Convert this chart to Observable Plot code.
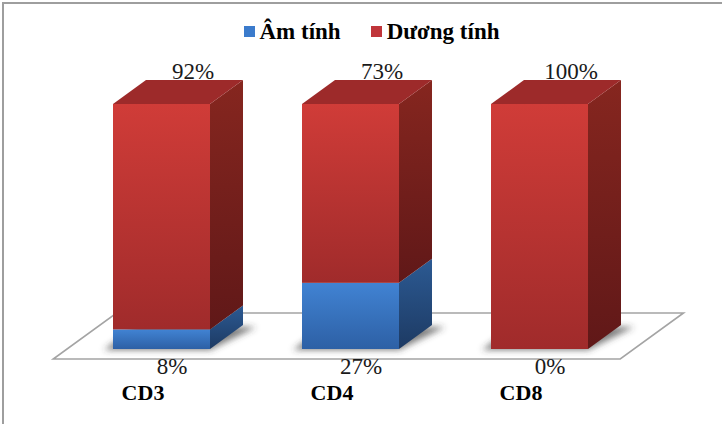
<!DOCTYPE html>
<html>
<head>
<meta charset="utf-8">
<script src="https://cdn.jsdelivr.net/npm/d3@7"></script>
<script src="https://cdn.jsdelivr.net/npm/@observablehq/plot@0.6"></script>
<style>
  html, body { margin: 0; padding: 0; background: #fff; }
  #frame {
    position: absolute; left: 2px; top: 2px; width: 720px; height: 422px;
    box-sizing: border-box; border-top: 2px solid #9e9e9e; border-left: 2px solid #9e9e9e;
    background: #fff; overflow: hidden;
  }
  #legend {
    height: 40px; box-sizing: border-box; padding-top: 15px; padding-left: 17px;
    display: flex; justify-content: center; align-items: center;
    font-family: "Liberation Serif", "Times New Roman", "DejaVu Serif", serif;
    font-weight: bold; font-size: 23px; line-height: 22px; color: #000;
  }
  #legend .item { display: flex; align-items: center; }
  #legend .item + .item { margin-left: 30px; }
  #legend .sw { width: 11px; height: 11px; margin-right: 5px; }
  #chart svg { display: block; }
  #chart svg text { font-family: "Liberation Serif", "Times New Roman", "DejaVu Serif", serif; }
</style>
</head>
<body>
<div id="frame">
  <div id="legend"></div>
  <div id="chart"></div>
</div>
<script>
// Tỷ lệ âm tính / dương tính theo dấu ấn CD
const categories = ["CD3", "CD4", "CD8"];
const seriesNames = ["Âm tính", "Dương tính"];
const amTinh = [8, 27, 0];
const duongTinh = [92, 73, 100];
const seriesValues = [amTinh, duongTinh];
const seriesColors = ["#3b7bcc", "#c0353a"];

// Stacked rows: one per category and series, bottom to top
const rows = categories.flatMap((cat, i) => {
  let base = 0;
  return seriesNames.map((series, k) => {
    const value = seriesValues[k][i];
    const r = { i, cat, series, k, value, y1: base, y2: base + value };
    base += value;
    return r;
  });
});
const visible = rows.filter(d => d.value > 0);
const topRows = rows.filter(d => d.k === seriesNames.length - 1);
const bottomRows = rows.filter(d => d.k === 0);

// 3D look: depth offset of each bar in pixels, half bar width in index units
const DX = 33, DY = -24;
const HALF = 0.2566;
const NS = "http://www.w3.org/2000/svg";
const SERIF = "Liberation Serif, Times New Roman, DejaVu Serif, serif";

// Draws polygons whose corners come from the plot's x / y scales
function polygons(items, cornersOf, styleOf) {
  return (index, scales) => {
    const g = document.createElementNS(NS, "g");
    for (const d of items) {
      const pts = cornersOf(d, scales.x, scales.y);
      const p = document.createElementNS(NS, "path");
      p.setAttribute("d", "M" + pts.map(q => q[0].toFixed(2) + "," + q[1].toFixed(2)).join("L") + "Z");
      for (const [k, v] of Object.entries(styleOf(d))) p.setAttribute(k, v);
      g.appendChild(p);
    }
    return g;
  };
}

// Floor plane under the bars
const floor = polygons([null], (d, x, y) => {
  const xl = x(-0.5), xr = x(categories.length - 0.5), y0 = y(0);
  const f = -0.417, b = 1.5;
  return [
    [xl + DX * f, y0 + DY * f], [xr + DX * f, y0 + DY * f],
    [xr + DX * b, y0 + DY * b], [xl + DX * b, y0 + DY * b]
  ];
}, () => ({ fill: "#fff", stroke: "#a4a4a4", "stroke-width": 1.6 }));

// Soft shadow around the base of each bar
const shadows = polygons(categories.map((c, i) => i), (i, x, y) => {
  const xl = x(i - HALF), xr = x(i + HALF), y0 = y(0);
  return [[xl - 9, y0 + 1], [xr, y0 + 1], [xr + DX + 13, y0 + DY + 2], [xl + DX - 9, y0 + DY]];
}, () => ({ fill: "#3a3a3a", "fill-opacity": 0.65, filter: "url(#blur)" }));

// Right-hand side faces
const sides = polygons(visible, (d, x, y) => {
  const xr = x(d.i + HALF);
  return [[xr, y(d.y1)], [xr, y(d.y2)], [xr + DX, y(d.y2) + DY], [xr + DX, y(d.y1) + DY]];
}, d => ({ fill: d.k === 0 ? "url(#sideBlue)" : "url(#sideRed)" }));

// Top faces of the stacks
const tops = polygons(topRows, (d, x, y) => {
  const xl = x(d.i - HALF), xr = x(d.i + HALF), yt = y(d.y2);
  return [[xl, yt], [xr, yt], [xr + DX, yt + DY], [xl + DX, yt + DY]];
}, () => ({ fill: "#9d2a2a" }));

const pct = v => `${v}%`;

const chart = Plot.plot({
  width: 718,
  height: 380,
  marginTop: 60,
  marginBottom: 75,
  marginLeft: 63,
  marginRight: 88,
  style: { fontFamily: SERIF, color: "#111", background: "transparent" },
  x: { type: "linear", domain: [-0.5, categories.length - 0.5] },
  y: { domain: [0, 100], axis: null },
  marks: [
    floor,
    shadows,
    Plot.rect(visible.filter(d => d.k === 0), {
      x1: d => d.i - HALF, x2: d => d.i + HALF, y1: "y1", y2: "y2", fill: "url(#frontBlue)"
    }),
    Plot.rect(visible.filter(d => d.k === 1), {
      x1: d => d.i - HALF, x2: d => d.i + HALF, y1: "y1", y2: "y2", fill: "url(#frontRed)"
    }),
    sides,
    tops,
    Plot.text(topRows, {
      x: "i", y: "y2", text: d => pct(d.value), dx: 31, dy: -26,
      lineAnchor: "bottom", fontSize: 23, fontFamily: SERIF, fill: "#1a1a1a"
    }),
    Plot.text(bottomRows, {
      x: "i", y: "y1", text: d => pct(d.value), dx: 10, dy: 24,
      lineAnchor: "bottom", fontSize: 23, fontFamily: SERIF, fill: "#1a1a1a"
    }),
    Plot.axisX({
      ticks: d3.range(categories.length), tickFormat: i => categories[i],
      tickSize: 0, tickPadding: 35, dx: -19,
      fontSize: 22, fontWeight: "bold", fontFamily: SERIF, fill: "#000", label: null
    })
  ]
});

// Gradients and blur used by the bar faces
const defs = document.createElementNS(NS, "defs");
defs.innerHTML = `
  <linearGradient id="frontRed" x1="0" y1="0" x2="0" y2="1">
    <stop offset="0" stop-color="#d03c38"/><stop offset="1" stop-color="#a02b2b"/>
  </linearGradient>
  <linearGradient id="frontBlue" x1="0" y1="0" x2="0" y2="1">
    <stop offset="0" stop-color="#4183d3"/><stop offset="1" stop-color="#2d60a5"/>
  </linearGradient>
  <linearGradient id="sideRed" x1="0" y1="0" x2="0" y2="1">
    <stop offset="0" stop-color="#86261f"/><stop offset="1" stop-color="#601818"/>
  </linearGradient>
  <linearGradient id="sideBlue" x1="0" y1="0" x2="0" y2="1">
    <stop offset="0" stop-color="#2c5a93"/><stop offset="1" stop-color="#1d3a63"/>
  </linearGradient>
  <filter id="blur" x="-20%" y="-50%" width="140%" height="200%">
    <feGaussianBlur stdDeviation="3"/>
  </filter>`;
chart.insertBefore(defs, chart.firstChild);
document.getElementById("chart").appendChild(chart);

// Legend above the chart
const legend = d3.select("#legend");
seriesNames.forEach((name, k) => {
  const item = legend.append("div").attr("class", "item");
  item.append("div").attr("class", "sw").style("background", seriesColors[k]);
  item.append("span").text(name);
});
</script>
</body>
</html>
